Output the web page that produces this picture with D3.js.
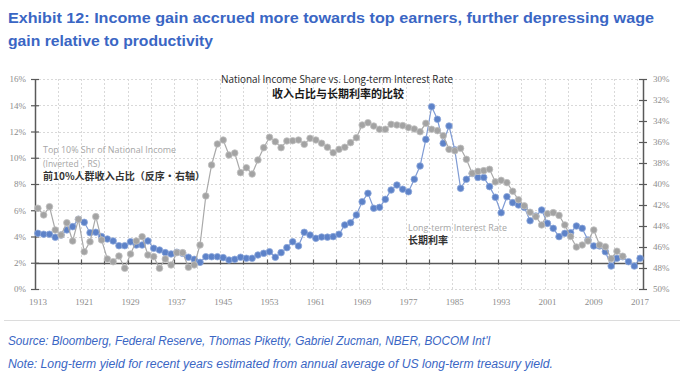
<!DOCTYPE html>
<html>
<head>
<meta charset="utf-8">
<script src="https://cdn.jsdelivr.net/npm/d3@7"></script>
<style>
  body { margin: 0; background: #fff; }
  svg { display: block; }
</style>
</head>
<body>
<div id="chart"></div>
<script>

// years on the category axis
var years = d3.range(1913, 2018);

// long-term interest rate, % (left axis)
var rateValues = [
  4.24, 4.17, 4.17, 3.94, 4.11, 4.50, 4.75, 5.31, 5.08, 4.29,   // 1913-1922
  4.32, 3.99, 3.81, 3.66, 3.30, 3.30, 3.60, 3.35, 3.35, 3.66,   // 1923-1932
  3.10, 2.97, 2.77, 2.67, 2.80, 2.72, 2.42, 2.26, 2.03, 2.46,   // 1933-1942
  2.46, 2.46, 2.39, 2.21, 2.26, 2.42, 2.34, 2.34, 2.59, 2.72,   // 1943-1952
  2.84, 2.42, 2.77, 3.15, 3.60, 3.28, 4.32, 4.11, 3.86, 3.96,   // 1953-1962
  3.95, 3.99, 4.17, 4.88, 5.05, 5.64, 6.65, 7.29, 6.15, 6.22,   // 1963-1972
  6.83, 7.54, 7.92, 7.60, 7.41, 8.36, 9.37, 11.40, 13.89, 12.93, // 1973-1982
  11.10, 12.42, 10.60, 7.67, 8.36, 8.80, 8.50, 8.50, 7.80, 6.99, // 1983-1992
  5.81, 7.03, 6.58, 6.40, 6.22, 5.20, 5.56, 6.02, 5.00, 4.62,   // 1993-2002
  3.99, 4.24, 4.29, 4.80, 4.62, 3.73, 3.28, 3.28, 2.84, 1.75,   // 2003-2012
  2.34, 2.46, 2.08, 1.75, 2.34                                  // 2013-2017
];

// top 10% share of national income, % (right axis, inverted)
var shareYears = d3.range(1913, 2015);
var shareValues = [
  42.31, 42.95, 42.16, 44.38, 44.86, 43.69, 45.43, 43.36, 46.45, 45.50, // 1913-1922
  43.11, 45.33, 47.14, 47.40, 46.86, 48.03, 46.67, 45.43, 45.02, 46.76, // 1923-1932
  46.92, 48.03, 47.14, 47.71, 46.54, 46.54, 47.93, 47.71, 45.81, 41.14, // 1933-1942
  38.19, 36.19, 35.81, 37.24, 37.05, 38.92, 38.45, 39.05, 37.71, 36.54, // 1943-1952
  35.55, 35.97, 36.54, 35.90, 35.88, 35.81, 36.22, 35.65, 35.81, 36.12, // 1953-1962
  36.50, 37.02, 36.70, 36.50, 36.06, 35.59, 34.38, 34.16, 34.48, 34.79, // 1963-1972
  34.79, 34.32, 34.38, 34.44, 34.63, 34.76, 35.02, 34.22, 34.79, 34.92, // 1973-1982
  35.40, 36.70, 36.83, 36.60, 37.65, 38.98, 38.80, 38.73, 38.60, 39.80, // 1983-1992
  39.65, 39.87, 40.69, 41.50, 42.08, 42.69, 43.11, 43.90, 42.83, 42.73, // 1993-2002
  42.99, 43.90, 45.00, 46.00, 45.81, 45.43, 44.38, 45.81, 45.97, 47.11, // 2003-2012
  46.40, 46.88                                                         // 2013-2014
];

var xTickLabels = [1913, 1921, 1929, 1937, 1945, 1953, 1961, 1969, 1977, 1985, 1993, 2001, 2009, 2017];
var leftTicks = [0, 2, 4, 6, 8, 10, 12, 14, 16];
var rightTicks = [30, 32, 34, 36, 38, 40, 42, 44, 46, 48, 50];

var rateData = years.map((y, i) => ({ year: y, value: rateValues[i] }));
var shareData = shareYears.map((y, i) => ({ year: y, value: shareValues[i] }));

var W = 682, H = 375;
var plot = { left: 35, right: 643, top: 79, bottom: 289 };

var svg = d3.select("#chart")
  .append("svg")
  .attr("width", W)
  .attr("height", H);

/* ***** scales ***** */
var x = d3.scaleBand()
  .domain(years)
  .range([plot.left, plot.right]);

var yL = d3.scaleLinear().domain([0, 16]).range([plot.bottom, plot.top]);
var yR = d3.scaleLinear().domain([30, 50]).range([plot.top, plot.bottom]);

var cx = d => x(d) + x.bandwidth() / 2;

/* ***** header text ***** */
var blue = "#3a66c4";
var head = svg.append("g")
  .attr("font-family", "'Liberation Sans Narrow', 'Liberation Sans', Arial, sans-serif")
  .attr("font-weight", "bold")
  .attr("font-size", 15.5)
  .attr("fill", blue);

head.append("text").attr("x", 8).attr("y", 23)
  .attr("textLength", 646).attr("lengthAdjust", "spacingAndGlyphs")
  .text("Exhibit 12: Income gain accrued more towards top earners, further depressing wage");
head.append("text").attr("x", 8).attr("y", 46)
  .attr("textLength", 205).attr("lengthAdjust", "spacingAndGlyphs")
  .text("gain relative to productivity");

/* ***** grid ***** */
var grid = svg.append("g")
  .attr("stroke", "#d9d9d9")
  .attr("stroke-width", 1)
  .attr("stroke-dasharray", "2,2");

grid.append("g")
  .selectAll("line")
  .data(leftTicks.filter(d => d !== 2))
  .join("line")
  .attr("x1", plot.left)
  .attr("x2", plot.right)
  .attr("y1", d => Math.round(yL(d)) + 0.5)
  .attr("y2", d => Math.round(yL(d)) + 0.5);

// vertical lines on the boundaries every 4 categories
var boundaryYears = years.filter((d, i) => i > 0 && i % 4 === 0);

grid.append("g")
  .selectAll("line")
  .data(boundaryYears)
  .join("line")
  .attr("x1", d => Math.round(x(d)) + 0.5)
  .attr("x2", d => Math.round(x(d)) + 0.5)
  .attr("y1", plot.top)
  .attr("y2", plot.bottom);

// frame line under the chart
svg.append("line")
  .attr("x1", 4).attr("x2", 680)
  .attr("y1", 320.5).attr("y2", 320.5)
  .attr("stroke", "#dcdcdc");

/* ***** axes ***** */
var axisColor = "#595959";
var labelColor = "#8c8c8c";
var tickFont = "'Liberation Serif', 'DejaVu Serif', serif";

var leftAxis = svg.append("g")
  .attr("transform", "translate(" + plot.left + ",0)")
  .call(d3.axisLeft(yL).tickValues(leftTicks).tickFormat(d => d + "%").tickSize(4).tickSizeOuter(0).tickPadding(5));

var rightAxis = svg.append("g")
  .attr("transform", "translate(" + plot.right + ",0)")
  .call(d3.axisRight(yR).tickValues(rightTicks).tickFormat(d => d + "%").tickSize(4).tickSizeOuter(0).tickPadding(6));

leftAxis.selectAll(".tick line").attr("x1", 4);
rightAxis.selectAll(".tick line").attr("x1", -4);

[leftAxis, rightAxis].forEach(function(a) {
  a.select(".domain").attr("stroke", axisColor).attr("stroke-width", 1.5);
  a.selectAll(".tick line").attr("stroke", axisColor).attr("stroke-width", 1.2);
  a.selectAll(".tick text")
    .attr("fill", labelColor)
    .attr("font-family", tickFont)
    .attr("font-size", 9);
});

// horizontal category axis crossing at 2%
var xAxisY = Math.round(yL(2)) + 0.5;
var xAxis = svg.append("g");

xAxis.append("line")
  .attr("x1", plot.left).attr("x2", plot.right)
  .attr("y1", xAxisY).attr("y2", xAxisY)
  .attr("stroke", axisColor)
  .attr("stroke-width", 1.5);

xAxis.selectAll("line.tick")
  .data(boundaryYears)
  .join("line")
  .attr("class", "tick")
  .attr("x1", d => Math.round(x(d)) + 0.5)
  .attr("x2", d => Math.round(x(d)) + 0.5)
  .attr("y1", xAxisY - 4)
  .attr("y2", xAxisY + 1)
  .attr("stroke", axisColor)
  .attr("stroke-width", 1.2);

svg.append("g")
  .selectAll("text")
  .data(xTickLabels)
  .join("text")
  .attr("x", d => cx(d))
  .attr("y", 305)
  .attr("text-anchor", "middle")
  .attr("fill", labelColor)
  .attr("font-family", tickFont)
  .attr("font-size", 9)
  .text(d => d);

/* ***** series ***** */
var rateLine = d3.line().x(d => cx(d.year)).y(d => yL(d.value));
var shareLine = d3.line().x(d => cx(d.year)).y(d => yR(d.value));

svg.append("path")
  .datum(rateData)
  .attr("d", rateLine)
  .attr("fill", "none")
  .attr("stroke", "#7f9bd4")
  .attr("stroke-width", 1.2);

svg.append("g")
  .selectAll("circle")
  .data(rateData)
  .join("circle")
  .attr("cx", d => cx(d.year))
  .attr("cy", d => yL(d.value))
  .attr("r", 3.3)
  .attr("fill", "#5d82c8")
  .attr("stroke", "#8ea8db")
  .attr("stroke-width", 0.8);

svg.append("path")
  .datum(shareData)
  .attr("d", shareLine)
  .attr("fill", "none")
  .attr("stroke", "#a9a9a9")
  .attr("stroke-width", 1.2);

svg.append("g")
  .selectAll("circle")
  .data(shareData)
  .join("circle")
  .attr("cx", d => cx(d.year))
  .attr("cy", d => yR(d.value))
  .attr("r", 3.3)
  .attr("fill", "#a3a3a3")
  .attr("stroke", "#c2c2c2")
  .attr("stroke-width", 0.8);

/* ***** chart titles and labels ***** */
var latin = "'Open Sans', 'Noto Sans', sans-serif";
var cjk = "'Noto Sans CJK SC', sans-serif";

svg.append("text")
  .attr("x", 337).attr("y", 83)
  .attr("text-anchor", "middle")
  .attr("font-family", latin)
  .attr("font-size", 10)
  .attr("fill", "#262626")
  .attr("textLength", 232).attr("lengthAdjust", "spacingAndGlyphs")
  .text("National Income Share vs. Long-term Interest Rate");

svg.append("text")
  .attr("x", 338).attr("y", 98)
  .attr("text-anchor", "middle")
  .attr("font-family", cjk)
  .attr("font-weight", "bold")
  .attr("font-size", 11)
  .attr("fill", "#1a1a1a")
  .text("收入占比与长期利率的比较");

svg.append("text")
  .attr("x", 43).attr("y", 153)
  .attr("font-family", latin)
  .attr("font-size", 8.5)
  .attr("fill", "#a6a6a6")
  .attr("textLength", 133).attr("lengthAdjust", "spacingAndGlyphs")
  .text("Top 10% Shr of National Income");

svg.append("text")
  .attr("x", 43).attr("y", 167)
  .attr("font-family", latin)
  .attr("font-size", 8.5)
  .attr("fill", "#a6a6a6")
  .text("(Inverted，RS)");

svg.append("text")
  .attr("x", 43).attr("y", 180)
  .attr("font-family", cjk)
  .attr("font-weight", "bold")
  .attr("font-size", 10)
  .attr("fill", "#333")
  .attr("textLength", 162).attr("lengthAdjust", "spacingAndGlyphs")
  .text("前10%人群收入占比（反序・右轴）");

svg.append("text")
  .attr("x", 408).attr("y", 231)
  .attr("font-family", latin)
  .attr("font-size", 8.5)
  .attr("fill", "#a6a6a6")
  .attr("textLength", 99).attr("lengthAdjust", "spacingAndGlyphs")
  .text("Long-term Interest Rate");

svg.append("text")
  .attr("x", 408).attr("y", 244)
  .attr("font-family", cjk)
  .attr("font-weight", "bold")
  .attr("font-size", 10)
  .attr("fill", "#333")
  .text("长期利率");

/* ***** footnotes ***** */
var foot = svg.append("g")
  .attr("font-family", "'Liberation Sans Narrow', 'Liberation Sans', Arial, sans-serif")
  .attr("font-style", "italic")
  .attr("font-size", 12)
  .attr("fill", blue);

foot.append("text").attr("x", 8).attr("y", 345)
  .attr("textLength", 482).attr("lengthAdjust", "spacingAndGlyphs")
  .text("Source: Bloomberg, Federal Reserve, Thomas Piketty, Gabriel Zucman, NBER, BOCOM Int'l");
foot.append("text").attr("x", 8).attr("y", 368)
  .attr("textLength", 545).attr("lengthAdjust", "spacingAndGlyphs")
  .text("Note: Long-term yield for recent years estimated from annual average of US long-term treasury yield.");

</script>
</body>
</html>
